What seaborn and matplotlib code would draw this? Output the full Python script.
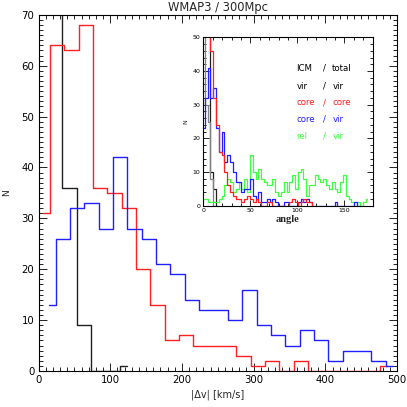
import numpy as np
import matplotlib
matplotlib.use("Agg")
import matplotlib.pyplot as plt
from matplotlib.ticker import MultipleLocator
import seaborn as sns

# main histogram: |dv| bins (20 km/s), bin centres and counts
dv_red_x = [6, 26, 46, 66, 86, 106, 126, 146, 166, 186, 206, 226, 246,
            266, 286, 306, 326, 346, 366, 386, 406, 426, 446, 466, 486]
dv_red = [31, 64, 63, 68, 36, 35, 32, 20, 13, 6, 7, 5, 5,
          5, 3, 1, 2, 0, 2, 0, 0, 0, 0, 0, 1]
dv_blue_x = [14, 34, 54, 74, 94, 114, 134, 154, 174, 194, 214, 234, 254,
             274, 294, 314, 334, 354, 374, 394, 414, 434, 454, 474, 494]
dv_blue = [13, 26, 32, 33, 28, 42, 28, 26, 21, 19, 14, 12, 12,
           10, 16, 9, 7, 5, 8, 6, 2, 4, 4, 2, 1]
dv_black_x = [23, 43, 63, 83, 103, 123]
dv_black = [90, 36, 9, 0, 0, 1]

# inset: angle histograms, 3 degree bins starting at 0
ang_step = 3
ang_icm = [70, 65, 60, 10, 5, 0]
ang_vir = [60, 30, 25, 8, 0]
ang_core_core = [55, 55, 55, 46, 32, 24, 16, 15, 10, 6, 4, 3, 2, 2, 1, 2, 3, 2, 1,
                 2, 1, 0, 0, 1, 1, 0, 0, 0, 0, 0, 0, 1, 2, 1, 0, 1, 2, 1, 1, 0]
ang_core_vir = [23, 32, 41, 32, 35, 23, 16, 22, 13, 15, 13, 10, 7, 7, 4, 5, 5, 8, 3,
                2, 4, 1, 1, 2, 1, 2, 1, 0, 0, 1, 1, 0, 0, 0, 1, 2, 1, 2, 1, 0,
                0, 0, 0, 0, 0, 0, 0, 1, 0, 0, 0, 0, 0, 0, 1, 0, 0]
ang_rel_vir = [2, 2, 1, 1, 1, 1, 2, 3, 6, 8, 7, 4, 5, 7, 5, 8, 4, 15, 10, 8, 11,
               8, 7, 6, 6, 8, 4, 3, 4, 7, 4, 7, 9, 5, 10, 11, 8, 3, 6, 6, 9,
               8, 7, 8, 6, 5, 7, 5, 4, 7, 9, 3, 2, 1, 0, 1, 0, 1, 2]

legend_left = ["ICM", "vir", "core", "core", "rel"]
legend_right = ["total", "vir", "core", "vir", "vir"]
legend_colors = ["black", "black", "#ff2020", "#2020ff", "#40ff40"]

sns.set_theme(style="ticks")
plt.rcParams['font.family'] = ['DejaVu Sans']

RED = "#ff2020"
BLUE = "#2020ff"
GREEN = "#40ff40"
BLACK = "#202020"


def steps(ax, x, y, color, lw=1.0):
    sns.lineplot(x=np.asarray(x, float), y=np.asarray(y, float), ax=ax,
                 drawstyle="steps-mid", color=color, lw=lw, estimator=None)


def idl_axes(ax, xmaj, xmin, ymaj, ymin, size, major_len, minor_len):
    ax.xaxis.set_major_locator(MultipleLocator(xmaj))
    ax.xaxis.set_minor_locator(MultipleLocator(xmin))
    ax.yaxis.set_major_locator(MultipleLocator(ymaj))
    ax.yaxis.set_minor_locator(MultipleLocator(ymin))
    ax.tick_params(which="both", direction="in", top=True, right=True,
                   colors="black", width=0.6, labelsize=size, pad=3)
    ax.tick_params(which="major", length=major_len)
    ax.tick_params(which="minor", length=minor_len)
    for s in ax.spines.values():
        s.set_color("black")
        s.set_linewidth(0.8)


fig = plt.figure(figsize=(4.07, 4.07), dpi=100)
ax = fig.add_axes([0.0946, 0.0885, 0.881, 0.875])

steps(ax, dv_black_x, dv_black, BLACK)
steps(ax, dv_red_x, dv_red, RED)
steps(ax, dv_blue_x, dv_blue, BLUE)

ax.set_xlim(0, 500)
ax.set_ylim(0, 70)
idl_axes(ax, 100, 10, 10, 1, 7.3, 6, 3)
ax.set_title("WMAP3 / 300Mpc", fontsize=8.3, pad=3)
ax.set_xlabel("|\u0394v| [km/s]", fontsize=7, labelpad=3)
ax.set_ylabel("N", fontsize=6.5)
ax.yaxis.set_label_coords(-0.075, 0.5)

# inset
ins = fig.add_axes([0.4995, 0.4946, 0.416, 0.4136])
ins.set_facecolor("white")
ang_series = [(ang_icm, BLACK), (ang_vir, "#808080"), (ang_rel_vir, GREEN),
              (ang_core_vir, BLUE), (ang_core_core, RED)]
for vals, col in ang_series:
    xs = np.arange(len(vals)) * ang_step
    steps(ins, xs, vals, col, lw=0.9)

ins.set_xlim(0, 180)
ins.set_ylim(0, 50)
idl_axes(ins, 50, 10, 10, 2, 4.5, 4, 2)
ins.tick_params(pad=2)
ins.set_xlabel("angle", fontsize=7.5, fontweight="bold",
               family=["Liberation Serif", "DejaVu Serif"], labelpad=1)
ins.set_ylabel("N", fontsize=4.5, labelpad=3)

row_y = [0.816, 0.711, 0.612, 0.513, 0.414]
for yy, left, right, col in zip(row_y, legend_left, legend_right, legend_colors):
    ins.text(0.551, yy, left, color=col, fontsize=6.2, transform=ins.transAxes,
             va="center", ha="left")
    ins.text(0.715, yy, "/", color=col, fontsize=6.2, transform=ins.transAxes,
             va="center", ha="center")
    ins.text(0.762, yy, right, color=col, fontsize=6.2, transform=ins.transAxes,
             va="center", ha="left")

fig.savefig("out.png", dpi=100, facecolor="white")
